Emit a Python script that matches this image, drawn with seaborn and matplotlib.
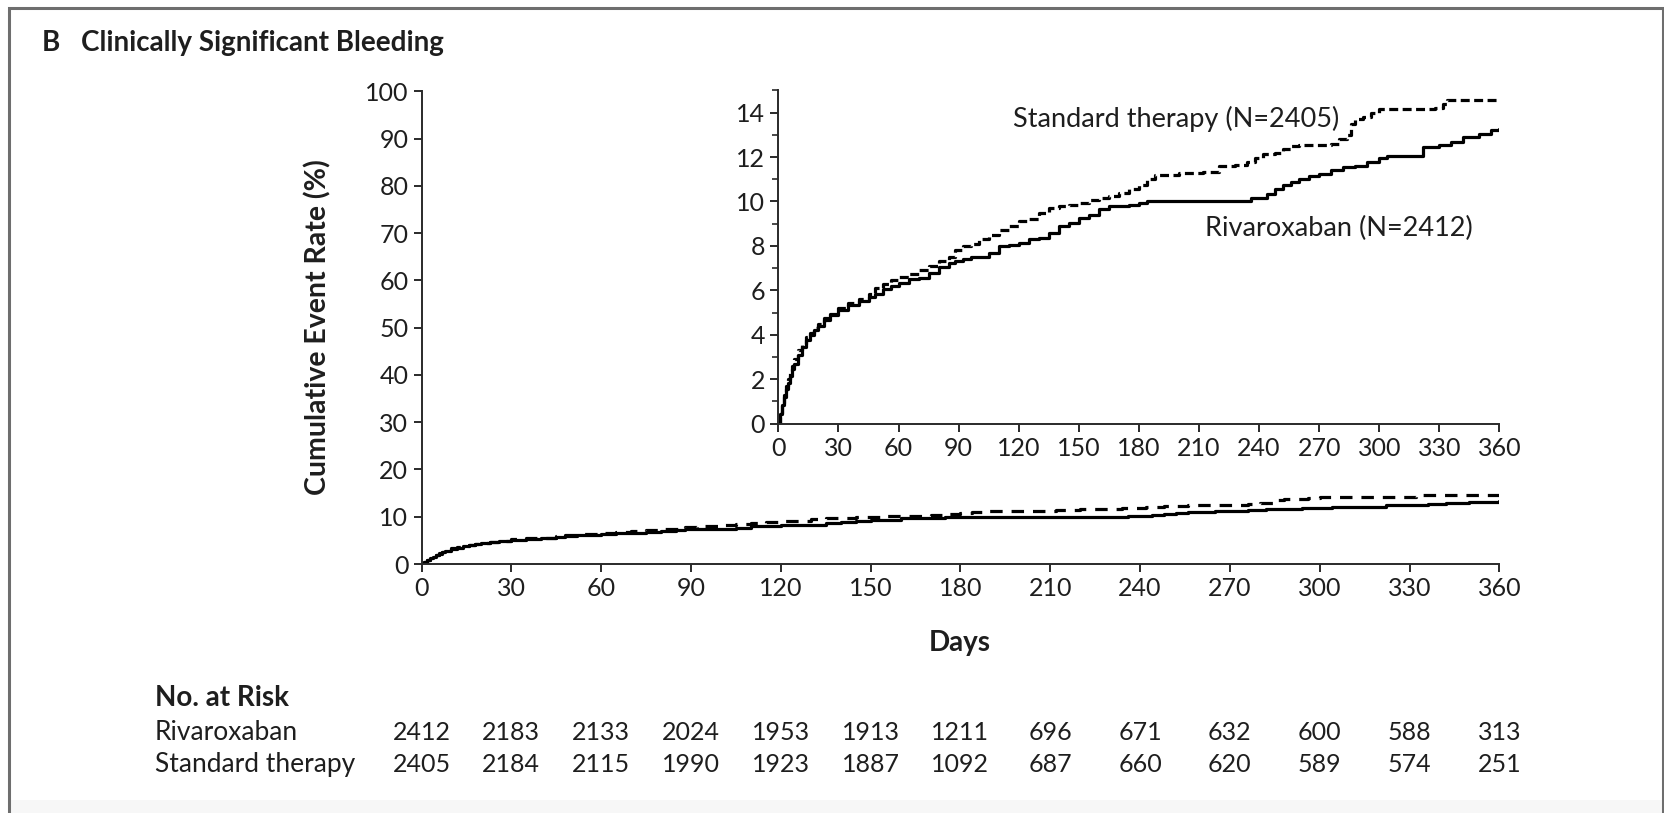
import numpy as np
import pandas as pd
import matplotlib
matplotlib.use("Agg")
import matplotlib.pyplot as plt
import matplotlib.transforms as mtransforms
from matplotlib.patches import Rectangle
import seaborn as sns

# ---------------- data ----------------
std_days = [0, 1, 2, 3, 4, 5, 6, 7, 8, 10, 12, 14, 16, 18, 20, 23, 26, 30, 35, 40,
            45, 48, 52, 56, 60, 65, 70, 75, 80, 85, 88, 92, 96, 100, 105, 110, 115,
            120, 125, 130, 135, 140, 145, 150, 155, 160, 165, 170, 175, 180, 184,
            188, 200, 212, 220, 228, 234, 238, 242, 248, 252, 256, 260, 270, 276,
            280, 284, 286, 288, 292, 296, 300, 320, 328, 332, 334, 360]
std_rate = [0, 0.5, 0.9, 1.3, 1.7, 2.0, 2.3, 2.6, 2.9, 3.3, 3.6, 3.9, 4.1, 4.3, 4.5,
            4.75, 4.95, 5.2, 5.45, 5.6, 5.85, 6.1, 6.3, 6.45, 6.6, 6.75, 6.9, 7.1,
            7.3, 7.5, 7.8, 8.0, 8.1, 8.3, 8.5, 8.7, 8.9, 9.1, 9.2, 9.5, 9.7, 9.8,
            9.85, 9.95, 10.05, 10.15, 10.25, 10.4, 10.55, 10.75, 11.0, 11.2, 11.3,
            11.35, 11.6, 11.65, 11.8, 11.95, 12.15, 12.2, 12.35, 12.5, 12.55, 12.55,
            12.6, 12.8, 13.0, 13.5, 13.7, 13.8, 14.0, 14.15, 14.15, 14.2, 14.4,
            14.55, 14.55]

riv_days = [0, 1, 2, 3, 4, 5, 6, 7, 8, 10, 12, 14, 16, 18, 20, 23, 26, 30, 35, 40,
            45, 48, 52, 56, 60, 65, 70, 75, 80, 85, 88, 92, 96, 100, 105, 110, 115,
            120, 125, 130, 135, 140, 145, 150, 155, 160, 165, 170, 175, 180, 184,
            228, 236, 244, 248, 252, 256, 260, 265, 270, 276, 282, 288, 294, 300,
            304, 320, 322, 330, 336, 342, 350, 356, 360]
riv_rate = [0, 0.45, 0.85, 1.2, 1.55, 1.85, 2.15, 2.45, 2.7, 3.1, 3.45, 3.75, 4.0,
            4.2, 4.4, 4.65, 4.9, 5.1, 5.35, 5.5, 5.7, 5.85, 6.05, 6.2, 6.35, 6.5,
            6.55, 6.8, 7.05, 7.25, 7.3, 7.4, 7.5, 7.5, 7.7, 8.0, 8.05, 8.15, 8.3,
            8.35, 8.6, 8.9, 9.05, 9.25, 9.4, 9.65, 9.8, 9.8, 9.85, 9.95, 10.0,
            10.0, 10.15, 10.35, 10.55, 10.75, 10.9, 11.0, 11.15, 11.25, 11.4,
            11.55, 11.6, 11.8, 11.95, 12.05, 12.05, 12.45, 12.55, 12.7, 12.9,
            13.05, 13.2, 13.25]

risk_days = [0, 30, 60, 90, 120, 150, 180, 210, 240, 270, 300, 330, 360]
risk_riv = [2412, 2183, 2133, 2024, 1953, 1913, 1211, 696, 671, 632, 600, 588, 313]
risk_std = [2405, 2184, 2115, 1990, 1923, 1887, 1092, 687, 660, 620, 589, 574, 251]

main_yticks = list(range(0, 101, 10))
inset_yticks = list(range(0, 15, 2))
x_ticks = list(range(0, 361, 30))

title_letter = "B"
title_text = "Clinically Significant Bleeding"
ylabel_text = "Cumulative Event Rate (%)"
xlabel_text = "Days"
risk_header = "No. at Risk"
group_names = ["Rivaroxaban", "Standard therapy"]
inset_labels = ["Standard therapy (N=2405)", "Rivaroxaban (N=2412)"]

df_std = pd.DataFrame({"day": std_days, "rate": std_rate})
df_riv = pd.DataFrame({"day": riv_days, "rate": riv_rate})

# ---------------- style ----------------
sns.set_style("ticks")
plt.rcParams["font.family"] = ["Lato", "DejaVu Sans"]
ink = "#1e1e1e"
plt.rcParams.update({
    "axes.edgecolor": "#2a2a2a",
    "axes.linewidth": 1.4,
    "xtick.color": "#2a2a2a",
    "ytick.color": "#2a2a2a",
    "xtick.labelcolor": ink,
    "ytick.labelcolor": ink,
    "xtick.major.size": 6,
    "ytick.major.size": 6,
    "xtick.major.width": 1.4,
    "ytick.major.width": 1.4,
    "ytick.minor.size": 4,
    "ytick.minor.width": 1.2,
    "xtick.direction": "out",
    "ytick.direction": "out",
})

W, H = 1665, 813
fig = plt.figure(figsize=(W / 100, H / 100), dpi=100)
fig.patch.set_facecolor("white")

def fx(px):
    return px / W

def fy(py):
    return 1 - py / H

lw = 2.3
tick_fs = 18
main_dash = (0, (3.9, 2.8))
inset_dash = (0, (2.8, 1.4))

# ---------------- main axes ----------------
ax = fig.add_axes([fx(421.5), fy(564), fx(1499.4) - fx(421.5), fy(91.3) - fy(564)])
sns.lineplot(data=df_riv, x="day", y="rate", ax=ax, color="black", lw=lw,
             drawstyle="steps-post", estimator=None)
sns.lineplot(data=df_std, x="day", y="rate", ax=ax, color="black", lw=lw,
             drawstyle="steps-post", estimator=None, linestyle=main_dash)
ax.set_xlim(0, 360)
ax.set_ylim(0, 100)
ax.set_xticks(x_ticks)
ax.set_yticks(main_yticks)
ax.tick_params(labelsize=tick_fs, pad=3.5)
ax.set_xlabel("")
ax.set_ylabel("")
for s in ["top", "right"]:
    ax.spines[s].set_visible(False)

# ---------------- inset ----------------
axi = fig.add_axes([fx(778.4), fy(423.7), fx(1499.4) - fx(778.4), fy(90.4) - fy(423.7)])
sns.lineplot(data=df_riv, x="day", y="rate", ax=axi, color="black", lw=lw,
             drawstyle="steps-post", estimator=None)
sns.lineplot(data=df_std, x="day", y="rate", ax=axi, color="black", lw=lw,
             drawstyle="steps-post", estimator=None, linestyle=inset_dash)
axi.set_xlim(0, 360)
axi.set_ylim(0, 15)
axi.set_xticks(x_ticks)
axi.set_yticks(inset_yticks)
axi.yaxis.set_minor_locator(matplotlib.ticker.MultipleLocator(1))
axi.tick_params(labelsize=tick_fs, pad=3.5)
axi.set_xlabel("")
axi.set_ylabel("")
axi.patch.set_alpha(0)
for s in ["top", "right"]:
    axi.spines[s].set_visible(False)
axi.text(117, 13.7, inset_labels[0], fontsize=19.5, color=ink, va="center", ha="left")
axi.text(213, 8.8, inset_labels[1], fontsize=19.5, color=ink, va="center", ha="left")

# ---------------- labels ----------------
fig.text(fx(42), fy(51), title_letter, fontsize=20, fontweight="bold", color=ink,
         ha="left", va="baseline")
fig.text(fx(81), fy(51), title_text, fontsize=20, fontweight="bold", color=ink,
         ha="left", va="baseline")
fig.text(fx(318), fy(327), ylabel_text, fontsize=20.5, fontweight="bold", color=ink,
         rotation=90, ha="center", va="center")
fig.text(fx(960), fy(643), xlabel_text, fontsize=20, fontweight="bold", color=ink,
         ha="center", va="center")

# ---------------- risk table ----------------
fig.text(fx(155), fy(698), risk_header, fontsize=20, fontweight="bold", color=ink,
         ha="left", va="center")
fig.text(fx(155), fy(732), group_names[0], fontsize=19, color=ink, ha="left", va="center")
fig.text(fx(155), fy(764), group_names[1], fontsize=19, color=ink, ha="left", va="center")
blend = mtransforms.blended_transform_factory(ax.transData, fig.transFigure)
for d, r, s in zip(risk_days, risk_riv, risk_std):
    ax.text(d, fy(732), str(r), transform=blend, fontsize=18, color=ink,
            ha="center", va="center", clip_on=False)
    ax.text(d, fy(764), str(s), transform=blend, fontsize=18, color=ink,
            ha="center", va="center", clip_on=False)

# ---------------- frame ----------------
fig.add_artist(Rectangle((fx(9), 0), fx(1663) - fx(9), fy(800), transform=fig.transFigure,
                         facecolor="#f7f7f7", edgecolor="none", zorder=-5))
fig.add_artist(Rectangle((fx(9), -0.05), fx(1663) - fx(9), fy(8) + 0.05,
                         transform=fig.transFigure, fill=False, edgecolor="#6e6e6e",
                         lw=2.2, zorder=-4))

fig.savefig("out.png", dpi=100, facecolor="white")
